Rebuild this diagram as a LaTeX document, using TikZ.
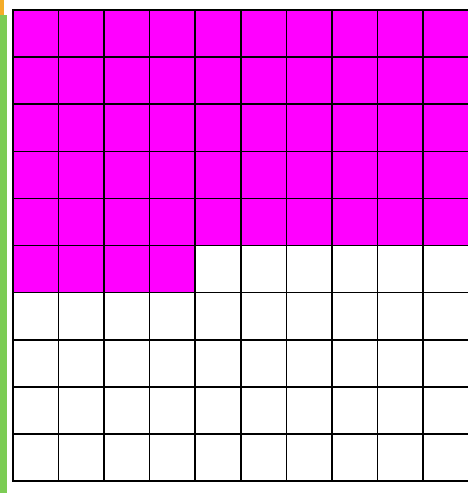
\documentclass[tikz,border=0pt]{standalone}
\usepackage{tikz}
\definecolor{shademagenta}{RGB}{255, 0, 255}
\definecolor{edgegreen}{RGB}{124, 204, 84}
\definecolor{cornerorange}{RGB}{244, 172, 40}

\begin{document}
\begin{tikzpicture}[x=1pt, y=-1pt, gridline/.style={draw=black, line width=1.6pt}, frameline/.style={draw=black, line width=2.4pt}]
    \useasboundingbox (0,0) rectangle (468,493);
    \fill[white] (0,0) rectangle (468,493);
    % page edge strips
    \fill[cornerorange] (0,0) rectangle (4,15);
    \fill[edgegreen] (0,15) rectangle (6.5,493);

    % shaded cells: 5 full rows and 4 cells of the sixth
    \fill[shademagenta] (13,10) rectangle (470,245.5);
    \fill[shademagenta] (13,245.5) rectangle (195,292.6);

    % grid of 10 x 10
    \foreach \i in {1,...,9} {
        \draw[gridline] (13+\i*45.55,10) -- (13+\i*45.55,481);
        \draw[gridline] (13,10+\i*47.1) -- (470,10+\i*47.1);
    }
    \draw[frameline] (13,10) rectangle (471,481);
\end{tikzpicture}
\end{document}
